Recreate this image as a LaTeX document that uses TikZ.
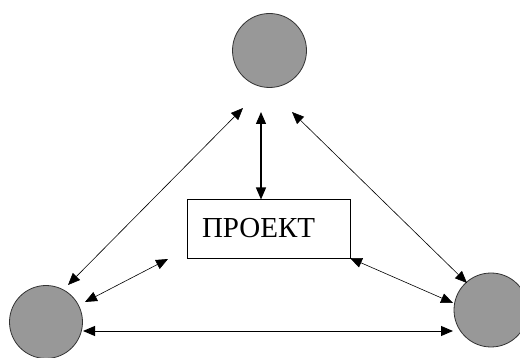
\documentclass[tikz,border=0pt]{standalone}
\usepackage{fontspec}
\setmainfont{Liberation Serif}
\usetikzlibrary{arrows.meta}
\definecolor{ballgray}{RGB}{152,152,152}
\begin{document}
\begin{tikzpicture}[x=1pt,y=-1pt,
  ball/.style={circle,draw=black!80,line width=0.8pt,fill=ballgray,minimum size=74pt,inner sep=0pt},
  projbox/.style={draw,line width=0.8pt,minimum height=59pt,text width=133pt,inner xsep=15pt,align=left,font=\fontsize{29}{32}\selectfont},
  conn/.style={line width=0.6pt,{Triangle[length=12pt,width=10pt]}-{Triangle[length=12pt,width=10pt]}},
  connthick/.style={conn,line width=1.2pt}]
\useasboundingbox (0,0) rectangle (520,358);
\clip (0,0) rectangle (520,358);
\node[ball] (top) at (269.5,50.5) {};
\node[ball,minimum size=73pt] (left) at (46,322) {};
\node[ball] (right) at (491,310) {};
\node[projbox] (proj) at (268.5,228.5) {ПРОЕКТ};
% arrow end points
\coordinate (tl) at (243,108);
\coordinate (tm) at (261,112);
\coordinate (tr) at (292,112);
\coordinate (bm) at (261,199.5);
\coordinate (ld) at (68,285);
\coordinate (ls1) at (85,302);
\coordinate (ls2) at (168,259);
\coordinate (lh) at (83,331);
\coordinate (rh) at (453,331);
\coordinate (rd) at (467,283);
\coordinate (rs1) at (350,258);
\coordinate (rs2) at (453,303);
\draw[conn] (tl) -- (ld);
\draw[conn] (tr) -- (rd);
\draw[connthick] (tm) -- (bm);
\draw[conn] (ls1) -- (ls2);
\draw[conn] (rs1) -- (rs2);
\draw[conn,line width=0.9pt] (lh) -- (rh);
\end{tikzpicture}
\end{document}
